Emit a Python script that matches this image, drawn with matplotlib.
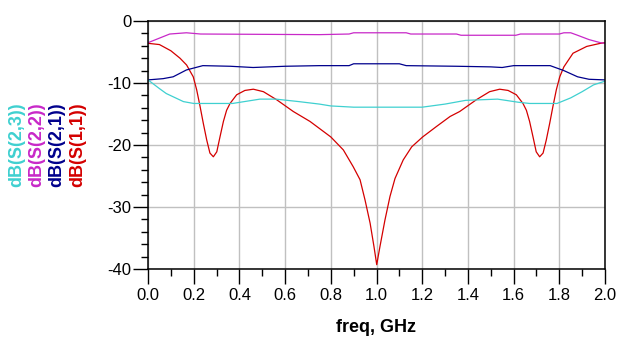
import matplotlib
matplotlib.use("Agg")
import matplotlib.pyplot as plt
from matplotlib.ticker import MultipleLocator

plt.rcParams['font.family'] = ['Liberation Sans', 'DejaVu Sans']

# S(1,1) - return loss
f_s11 = [0.0, 0.05, 0.1, 0.14, 0.169, 0.198, 0.213, 0.228, 0.242, 0.257, 0.271,
         0.286, 0.301, 0.315, 0.33, 0.344, 0.359, 0.388, 0.424, 0.461, 0.505,
         0.563, 0.636, 0.709, 0.8, 0.855, 0.898, 0.928, 0.95, 0.972, 0.989,
         1.001, 1.015, 1.037, 1.059, 1.081, 1.117, 1.154, 1.202, 1.263, 1.322,
         1.364, 1.437, 1.495, 1.539, 1.576, 1.612, 1.641, 1.656, 1.67, 1.685,
         1.699, 1.714, 1.729, 1.743, 1.758, 1.772, 1.787, 1.802, 1.82, 1.86,
         1.92, 1.98, 2.0]
s11 = [-3.6, -3.8, -4.8, -6.0, -7.1, -9.0, -11.1, -13.8, -16.5, -19.2, -21.3,
       -21.9, -21.1, -18.7, -16.2, -14.4, -13.3, -11.9, -11.2, -11.0, -11.4,
       -12.7, -14.6, -16.2, -18.7, -20.8, -23.5, -25.6, -28.9, -32.6, -36.4,
       -39.3, -36.4, -32.1, -28.3, -25.4, -22.4, -20.3, -18.7, -17.0, -15.4,
       -14.6, -12.7, -11.4, -11.0, -11.2, -11.9, -13.3, -14.4, -16.2, -18.7,
       -21.1, -21.9, -21.3, -19.2, -16.5, -13.8, -11.1, -9.0, -7.4, -5.2,
       -4.1, -3.6, -3.5]

# S(2,1)
f_s21 = [0.0, 0.066, 0.11, 0.168, 0.24, 0.36, 0.46, 0.6, 0.75, 0.88, 0.9, 1.1,
         1.13, 1.35, 1.5, 1.55, 1.6, 1.76, 1.82, 1.88, 1.93, 2.0]
s21 = [-9.5, -9.3, -9.0, -7.9, -7.2, -7.3, -7.5, -7.3, -7.2, -7.2, -6.9, -6.9,
       -7.2, -7.3, -7.4, -7.5, -7.2, -7.2, -8.0, -9.0, -9.4, -9.5]

# S(2,2)
f_s22 = [0.0, 0.095, 0.168, 0.23, 0.75, 0.88, 0.9, 1.13, 1.15, 1.35, 1.37, 1.61,
         1.63, 1.8, 1.82, 1.85, 1.88, 1.93, 1.98, 2.0]
s22 = [-3.5, -2.1, -1.9, -2.1, -2.2, -2.1, -1.9, -1.9, -2.1, -2.1, -2.3, -2.3,
       -2.1, -2.1, -1.9, -1.9, -2.3, -3.0, -3.5, -3.6]

# S(2,3)
f_s23 = [0.0, 0.05, 0.08, 0.155, 0.2, 0.37, 0.49, 0.56, 0.66, 0.75, 0.8, 0.9,
         1.2, 1.3, 1.39, 1.53, 1.62, 1.67, 1.79, 1.85, 1.9, 1.95, 2.0]
s23 = [-9.5, -10.9, -11.7, -13.0, -13.3, -13.3, -12.6, -12.6, -13.0, -13.4, -13.7, -13.9,
       -13.9, -13.4, -12.8, -12.6, -13.1, -13.3, -13.3, -12.4, -11.4, -10.3, -9.7]

series = [
    ("dB(S(2,3))", f_s23, s23, "#3fd0d0"),
    ("dB(S(2,2))", f_s22, s22, "#c828c8"),
    ("dB(S(2,1))", f_s21, s21, "#00008c"),
    ("dB(S(1,1))", f_s11, s11, "#d40000"),
]

fig = plt.figure(figsize=(6.23, 3.48), dpi=100)
ax = fig.add_axes([148 / 623, 1 - 269 / 348, 457 / 623, 248 / 348])

for name, f, v, c in series[::-1]:
    ax.plot(f, v, color=c, lw=0.9)

ax.set_xlim(0, 2.0)
ax.set_ylim(-40, 0)
ax.xaxis.set_major_locator(MultipleLocator(0.2))
ax.xaxis.set_minor_locator(MultipleLocator(0.1))
ax.yaxis.set_major_locator(MultipleLocator(10))
ax.yaxis.set_minor_locator(MultipleLocator(2))
ax.xaxis.set_major_formatter(lambda x, pos: f"{x:.1f}")
ax.yaxis.set_major_formatter(lambda y, pos: f"{y:.0f}")

ax.grid(True, which="major", color="#c0c0c0", lw=1.0)
ax.set_axisbelow(True)
ax.tick_params(which="major", direction="out", length=10.5, width=1.0,
               labelsize=12, color="black")
ax.tick_params(which="minor", direction="out", length=5, width=1.0, color="black")
ax.tick_params(axis="y", pad=1.5)
ax.tick_params(axis="x", pad=3)
for s in ax.spines.values():
    s.set_linewidth(1.1)
    s.set_color("black")

ax.set_xlabel("freq, GHz", fontsize=13, fontweight="bold", labelpad=12)

# libellés empilés à gauche, un par courbe
xs = [17, 37, 57, 78]
for (name, f, v, c), xp in zip(series, xs):
    fig.text(xp / 623, 1 - 145 / 348, name, rotation=90, ha="center", va="center",
             color=c, fontsize=13, fontweight="bold")

fig.savefig("out.png", dpi=100)
